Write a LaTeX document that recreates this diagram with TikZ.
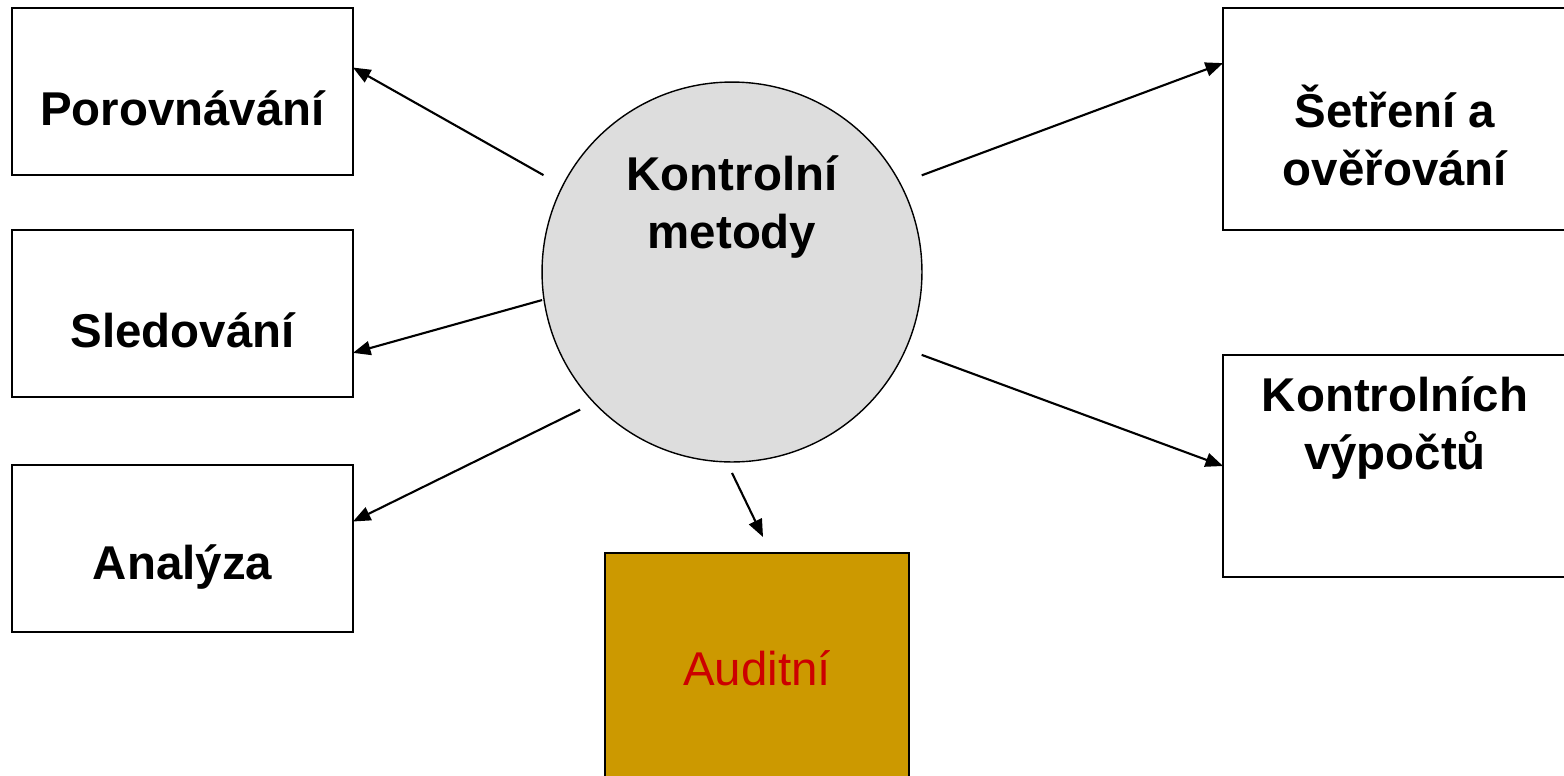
\documentclass[tikz,border=0pt]{standalone}
\usepackage{fontspec}
\setmainfont{Liberation Sans}
\usetikzlibrary{arrows.meta, calc, shapes, positioning}

\definecolor{circlegray}{HTML}{DDDDDD}
\definecolor{auditgold}{HTML}{CC9900}
\definecolor{auditred}{HTML}{CC0000}

\begin{document}
\begin{tikzpicture}[x=0.02cm, y=-0.02cm,
		box/.style={draw, line width=1pt, inner sep=0pt, outer sep=0pt, minimum width=6.82cm, minimum height=3.34cm},
		bigbox/.style={box, minimum width=6.88cm, minimum height=4.44cm},
		lbl/.style={font=\fontsize{27}{33}\selectfont\bfseries, align=center, inner sep=0pt},
		arr/.style={-{Triangle[length=10pt,width=8pt]}, line width=1.2pt}]
			\useasboundingbox (0,0) rectangle (1564,775);
			
			% Centre
			\node[circle, draw, line width=0.8pt, fill=circlegray, minimum size=7.6cm, inner sep=0pt,
				label={[lbl, yshift=1.3cm]center:Kontrolní\\metody}] (metody) at (732,272) {};
			
			% Left boxes
			\node[box, label={[lbl, yshift=-0.33cm]center:Porovnávání}] (porovn) at (182.5,91.5) {};
			\node[box, label={[lbl, yshift=-0.33cm]center:Sledování}] (sled) at (182.5,313.5) {};
			\node[box, label={[lbl, yshift=-0.37cm]center:Analýza}] (anal) at (182.5,548.5) {};
			
			% Right boxes
			\node[bigbox, label={[lbl, yshift=-0.32cm]center:Šetření a\\ověřování}] (setreni) at (1395,119) {};
			\node[bigbox, label={[lbl, yshift=0.76cm]center:Kontrolních\\výpočtů}] (vypoctu) at (1395,466) {};
			
			% Audit
			\node[box, fill=auditgold, minimum width=6.08cm, minimum height=4.74cm,
				label={[lbl, font=\fontsize{27}{33}\selectfont, text=auditred, yshift=0.06cm]center:Auditní}] (audit) at (757,671.5) {};
			\coordinate (auditTip) at (763,537);
			
			% Arrows
			\draw[arr] ($(metody.center)+(152.8:4.24cm)$) -- (porovn.8.8);
			\draw[arr] ($(metody.center)+(188.4:3.84cm)$) -- (sled.-13);
			\draw[arr] ($(metody.center)+(222.2:4.1cm)$) -- (anal.9.5);
			\draw[arr] ($(metody.center)+(270:4.02cm)$) -- (auditTip);
			\draw[arr] ($(metody.center)+(27:4.26cm)$) -- (setreni.162.6);
			\draw[arr] ($(metody.center)+(-23.6:4.14cm)$) -- (vypoctu.west);
		\end{tikzpicture}
\end{document}
